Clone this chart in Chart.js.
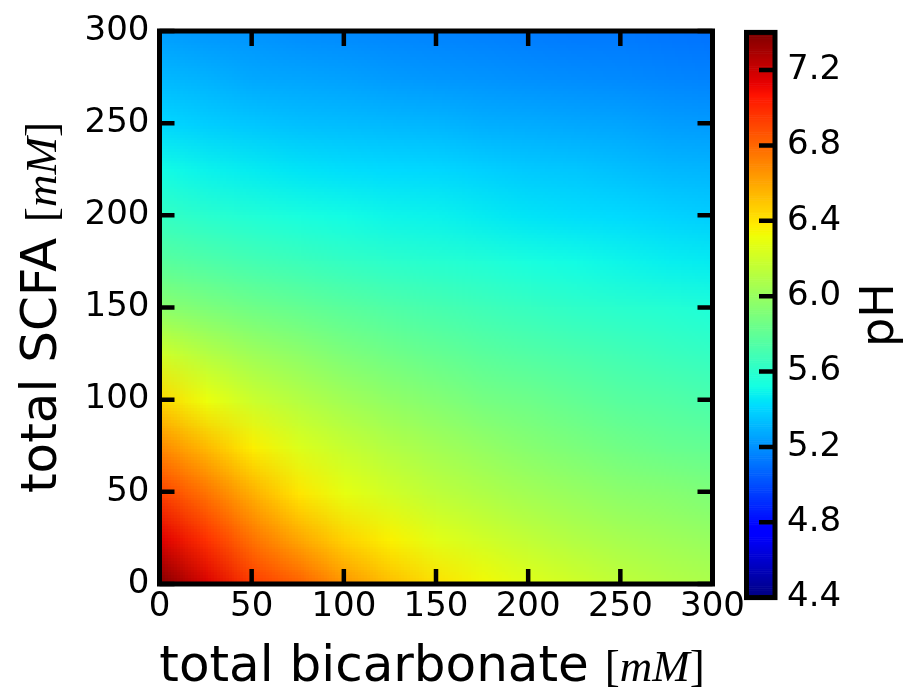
<!DOCTYPE html>
<html>
<head>
<meta charset="utf-8">
<title>pH vs SCFA and bicarbonate</title>
<script src="https://cdn.jsdelivr.net/npm/chart.js@4.4.1/dist/chart.umd.min.js"></script>
<style>
  html, body { margin: 0; padding: 0; background: #fff; }
  #wrap { position: relative; width: 908px; height: 696px; }
  #main { position: absolute; left: 0; top: 0; }
  #cbar { position: absolute; left: 720px; top: 0; }
</style>
</head>
<body>
<div id="wrap">
  <canvas id="main" width="908" height="696"></canvas>
  <canvas id="cbar" width="188" height="696"></canvas>
</div>
<script>
// grid nodes (mM)
const bicarbonate = [0, 25, 50, 75, 100, 125, 150, 175, 200, 225, 250, 275, 300];
const scfa = [0, 25, 50, 75, 100, 125, 150, 175, 200, 225, 250, 275, 300];

// pH, one row per SCFA level, columns = bicarbonate
const pH_scfa0   = [7.40, 7.17, 6.95, 6.83, 6.66, 6.53, 6.42, 6.34, 6.27, 6.21, 6.15, 6.11, 6.08];
const pH_scfa25  = [7.15, 6.97, 6.76, 6.60, 6.46, 6.36, 6.27, 6.21, 6.15, 6.10, 6.06, 6.03, 6.00];
const pH_scfa50  = [6.92, 6.76, 6.57, 6.40, 6.29, 6.21, 6.14, 6.09, 6.04, 6.00, 5.96, 5.94, 5.91];
const pH_scfa75  = [6.69, 6.54, 6.37, 6.25, 6.17, 6.10, 6.04, 5.99, 5.94, 5.90, 5.86, 5.83, 5.81];
const pH_scfa100 = [6.45, 6.31, 6.19, 6.11, 6.04, 5.98, 5.93, 5.88, 5.85, 5.81, 5.77, 5.75, 5.72];
const pH_scfa125 = [6.21, 6.11, 6.03, 5.97, 5.91, 5.86, 5.82, 5.78, 5.75, 5.72, 5.69, 5.66, 5.64];
const pH_scfa150 = [5.96, 5.91, 5.86, 5.82, 5.78, 5.74, 5.71, 5.68, 5.65, 5.62, 5.60, 5.58, 5.56];
const pH_scfa175 = [5.78, 5.74, 5.70, 5.67, 5.64, 5.61, 5.59, 5.57, 5.54, 5.52, 5.50, 5.48, 5.47];
const pH_scfa200 = [5.64, 5.60, 5.57, 5.54, 5.52, 5.50, 5.49, 5.47, 5.45, 5.43, 5.42, 5.40, 5.38];
const pH_scfa225 = [5.52, 5.49, 5.47, 5.45, 5.43, 5.42, 5.41, 5.39, 5.37, 5.36, 5.34, 5.32, 5.31];
const pH_scfa250 = [5.41, 5.38, 5.36, 5.34, 5.33, 5.32, 5.31, 5.29, 5.28, 5.27, 5.26, 5.24, 5.23];
const pH_scfa275 = [5.32, 5.30, 5.27, 5.26, 5.25, 5.23, 5.22, 5.21, 5.20, 5.19, 5.18, 5.17, 5.16];
const pH_scfa300 = [5.24, 5.22, 5.21, 5.19, 5.18, 5.17, 5.16, 5.15, 5.14, 5.13, 5.13, 5.12, 5.11];

const pHRows = [pH_scfa0, pH_scfa25, pH_scfa50, pH_scfa75, pH_scfa100, pH_scfa125, pH_scfa150,
                pH_scfa175, pH_scfa200, pH_scfa225, pH_scfa250, pH_scfa275, pH_scfa300];

const axisTicks = [0, 50, 100, 150, 200, 250, 300];
const colorbarTicks = [4.4, 4.8, 5.2, 5.6, 6.0, 6.4, 6.8, 7.2];
const pHMin = 4.4, pHMax = 7.4;

// matplotlib "jet"
const JET_R = [[0, 0], [0.35, 0], [0.66, 1], [0.89, 1], [1, 0.5]];
const JET_G = [[0, 0], [0.125, 0], [0.375, 1], [0.64, 1], [0.91, 0], [1, 0]];
const JET_B = [[0, 0.5], [0.11, 1], [0.34, 1], [0.65, 0], [1, 0]];
function seg(pts, t) {
  for (let i = 0; i < pts.length - 1; i++) {
    if (t <= pts[i + 1][0]) {
      const f = (t - pts[i][0]) / (pts[i + 1][0] - pts[i][0]);
      return pts[i][1] + f * (pts[i + 1][1] - pts[i][1]);
    }
  }
  return pts[pts.length - 1][1];
}
function jet(t) {
  t = Math.min(1, Math.max(0, t));
  return [seg(JET_R, t), seg(JET_G, t), seg(JET_B, t)].map(c => Math.round(c * 255));
}

const TICK_FONT = { family: 'DejaVu Sans', size: 34 };
const LABEL_SIZE = 50;
const MATH_SIZE = 45;

function drawLabel(ctx, parts, x, y, rotate) {
  ctx.save();
  ctx.translate(x, y);
  if (rotate) ctx.rotate(-Math.PI / 2);
  ctx.fillStyle = '#000';
  ctx.textBaseline = 'alphabetic';
  ctx.textAlign = 'left';
  let total = 0;
  parts.forEach(p => { ctx.font = p.font; total += ctx.measureText(p.text).width; });
  let cx = -total / 2;
  parts.forEach(p => {
    ctx.font = p.font;
    ctx.fillText(p.text, cx, 0);
    cx += ctx.measureText(p.text).width;
  });
  ctx.restore();
}
function labelParts(word) {
  return [
    { text: word + ' ', font: LABEL_SIZE + 'px "DejaVu Sans"' },
    { text: '[', font: MATH_SIZE + 'px "Liberation Serif"' },
    { text: 'mM', font: 'italic ' + MATH_SIZE + 'px "Liberation Serif"' },
    { text: ']', font: MATH_SIZE + 'px "Liberation Serif"' }
  ];
}

const heatmapPlugin = {
  id: 'heatmap',
  beforeDatasetsDraw(chart) {
    const { ctx, chartArea: a, scales: { x, y } } = chart;
    const nx = bicarbonate.length, ny = scfa.length;
    const off = document.createElement('canvas');
    off.width = nx; off.height = ny;
    const octx = off.getContext('2d');
    const img = octx.createImageData(nx, ny);
    chart.data.datasets[0].data.forEach(p => {
      const i = bicarbonate.indexOf(p.x);
      const j = ny - 1 - scfa.indexOf(p.y);
      const c = jet((p.v - pHMin) / (pHMax - pHMin));
      const k = (j * nx + i) * 4;
      img.data[k] = c[0]; img.data[k + 1] = c[1]; img.data[k + 2] = c[2]; img.data[k + 3] = 255;
    });
    octx.putImageData(img, 0, 0);
    const hx = (bicarbonate[1] - bicarbonate[0]) / 2, hy = (scfa[1] - scfa[0]) / 2;
    const left = x.getPixelForValue(bicarbonate[0] - hx);
    const right = x.getPixelForValue(bicarbonate[nx - 1] + hx);
    const top = y.getPixelForValue(scfa[ny - 1] + hy);
    const bottom = y.getPixelForValue(scfa[0] - hy);
    ctx.save();
    ctx.beginPath();
    ctx.rect(a.left, a.top, a.width, a.height);
    ctx.clip();
    ctx.imageSmoothingEnabled = true;
    ctx.drawImage(off, left, top, right - left, bottom - top);
    ctx.restore();
  },
  afterDraw(chart) {
    const { ctx, chartArea: a, scales: { x, y } } = chart;
    const L = 15;
    ctx.save();
    ctx.strokeStyle = '#000';
    ctx.lineWidth = 4.5;
    ctx.beginPath();
    x.ticks.forEach(t => {
      const px = x.getPixelForValue(t.value);
      ctx.moveTo(px, a.bottom); ctx.lineTo(px, a.bottom - L);
      ctx.moveTo(px, a.top); ctx.lineTo(px, a.top + L);
    });
    y.ticks.forEach(t => {
      const py = y.getPixelForValue(t.value);
      ctx.moveTo(a.left, py); ctx.lineTo(a.left + L, py);
      ctx.moveTo(a.right, py); ctx.lineTo(a.right - L, py);
    });
    ctx.stroke();
    ctx.lineWidth = 5;
    ctx.strokeRect(a.left, a.top, a.right - a.left, a.bottom - a.top);
    ctx.restore();

    drawLabel(ctx, labelParts('total bicarbonate'), (a.left + a.right) / 2 - 4, 681, false);
    drawLabel(ctx, labelParts('total SCFA'), 56, (a.top + a.bottom) / 2, true);
  }
};

const points = [];
scfa.forEach((s, j) => bicarbonate.forEach((b, i) => points.push({ x: b, y: s, v: pHRows[j][i] })));

new Chart(document.getElementById('main'), {
  type: 'scatter',
  data: { datasets: [{ data: points, pointRadius: 0, showLine: false }] },
  options: {
    responsive: false,
    animation: false,
    events: [],
    layout: { padding: { top: 31, right: 195.5, left: 0, bottom: 0 } },
    plugins: { legend: { display: false }, tooltip: { enabled: false } },
    scales: {
      x: {
        type: 'linear', min: 0, max: 300,
        afterBuildTicks: s => { s.ticks = axisTicks.map(v => ({ value: v })); },
        afterFit: s => { s.height = 112; },
        ticks: { font: TICK_FONT, color: '#000', padding: 3, autoSkip: false, maxRotation: 0 },
        grid: { display: false, drawTicks: false },
        border: { display: false }
      },
      y: {
        type: 'linear', min: 0, max: 300,
        afterBuildTicks: s => { s.ticks = axisTicks.map(v => ({ value: v })); },
        afterFit: s => { s.width = 159.5; },
        ticks: { font: TICK_FONT, color: '#000', padding: 10, autoSkip: false },
        grid: { display: false, drawTicks: false },
        border: { display: false }
      }
    }
  },
  plugins: [heatmapPlugin]
});

const colorbarPlugin = {
  id: 'colorbar',
  beforeDatasetsDraw(chart) {
    const { ctx, chartArea: a, scales: { y } } = chart;
    const n = 300;
    ctx.save();
    for (let i = 0; i < n; i++) {
      const v0 = pHMin + (pHMax - pHMin) * i / n;
      const v1 = pHMin + (pHMax - pHMin) * (i + 1) / n;
      const c = jet((i + 0.5) / n);
      const p0 = y.getPixelForValue(v0), p1 = y.getPixelForValue(v1);
      ctx.fillStyle = 'rgb(' + c.join(',') + ')';
      ctx.fillRect(a.left, p1, a.right - a.left, p0 - p1 + 0.6);
    }
    ctx.restore();
  },
  afterDraw(chart) {
    const { ctx, chartArea: a, scales: { y } } = chart;
    ctx.save();
    ctx.strokeStyle = '#000';
    ctx.lineWidth = 4.5;
    ctx.beginPath();
    y.ticks.forEach(t => {
      const py = y.getPixelForValue(t.value);
      ctx.moveTo(a.right, py); ctx.lineTo(a.right - 16, py);
    });
    ctx.stroke();
    ctx.lineWidth = 5;
    ctx.strokeRect(a.left, a.top, a.right - a.left, a.bottom - a.top);
    ctx.restore();
    drawLabel(ctx, [{ text: 'pH', font: '46px "DejaVu Sans"' }], 173, (a.top + a.bottom) / 2, true);
  }
};

new Chart(document.getElementById('cbar'), {
  type: 'bar',
  data: { labels: [''], datasets: [{ data: [] }] },
  options: {
    responsive: false,
    animation: false,
    events: [],
    layout: { padding: { left: 26.5, top: 15.6, bottom: 98.4, right: 0 } },
    plugins: { legend: { display: false }, tooltip: { enabled: false } },
    scales: {
      x: { display: false },
      y: {
        type: 'linear', position: 'right', min: pHMin, max: pHMax,
        afterBuildTicks: s => { s.ticks = colorbarTicks.map(v => ({ value: v })); },
        afterFit: s => { s.width = 133; },
        ticks: { font: TICK_FONT, color: '#000', padding: 12, callback: v => Number(v).toFixed(1) },
        grid: { display: false, drawTicks: false },
        border: { display: false }
      }
    }
  },
  plugins: [colorbarPlugin]
});
</script>
</body>
</html>
